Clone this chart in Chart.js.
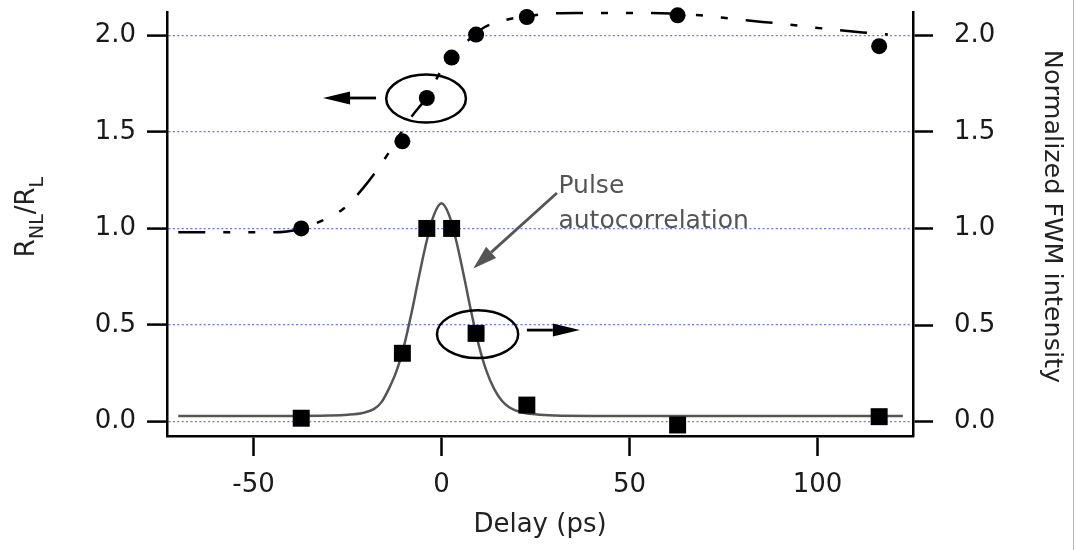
<!DOCTYPE html>
<html>
<head>
<meta charset="utf-8">
<title>Delay</title>
<script src="https://cdn.jsdelivr.net/npm/chart.js@4.4.1/dist/chart.umd.min.js"></script>
<style>
  body { margin: 0; background: #fff; }
  #caixa { position: relative; width: 1077px; height: 550px; }
  #borda { position: absolute; left: 1073px; top: 0; width: 1px; height: 550px; background: #f2a0a0; }
</style>
</head>
<body>
<div id="caixa">
  <canvas id="graph_delay"></canvas>
  <div id="borda"></div>
</div>
<script>
// Dados do gráfico

const atrasos = [-37.3, -10.4, -3.9, 2.7, 9.2, 22.7, 62.8, 116.4];
const razaoRnl = [1.0, 1.451, 1.675, 1.884, 2.003, 2.094, 2.103, 1.943];
const intensidadeFwm = [0.018, 0.354, 1.0, 1.0, 0.457, 0.086, -0.017, 0.026];

// curva tracejada (ajuste de R_NL/R_L)
const ajusteX = [-70, -45, -37.7, -32.5, -26, -20.8, -15.8, -8, -3.9, 0, 2.7, 5, 9.1, 11.3, 16.6, 22.7, 29, 36, 45, 54, 62.8, 68.8, 74.5, 81, 90, 99.5, 106, 112, 118.7];
const ajusteY = [0.98, 0.98, 0.996, 1.034, 1.103, 1.21, 1.34, 1.577, 1.68, 1.82, 1.89, 1.937, 2.006, 2.04, 2.077, 2.098, 2.112, 2.115, 2.115, 2.115, 2.11, 2.103, 2.091, 2.077, 2.06, 2.039, 2.025, 2.014, 2.003];

// autocorrelação do pulso
const autocorrX = [-70, -40, -30, -25, -21, -18, -16, -14, -12, -10, -8, -6, -4, -2, 0, 2, 4, 6, 8, 10, 12, 14, 16, 18, 21, 25, 30, 40, 122.7];
const autocorrY = [0.03, 0.03, 0.032, 0.036, 0.045, 0.065, 0.1, 0.17, 0.26, 0.39, 0.56, 0.75, 0.93, 1.07, 1.13, 1.07, 0.93, 0.75, 0.56, 0.39, 0.26, 0.17, 0.11, 0.075, 0.05, 0.038, 0.032, 0.03, 0.03];

const ticksX = [-50, 0, 50, 100];
const ticksY = [0, 0.5, 1, 1.5, 2];

// Anotações (coordenadas em unidades de dados)
const elipses = [
  { x: -4.1, y: 1.672, rx: 10.6, ry: 0.124 },
  { x: 9.6, y: 0.453, rx: 10.8, ry: 0.124 },
];
const setas = [
  { de: [-17.4, 1.675], para: [-31.5, 1.675], cor: "#000", cabeca: 27, meia: 6.5 },
  { de: [22.7, 0.474], para: [36.8, 0.474], cor: "#000", cabeca: 27, meia: 6.5 },
  { de: [30.7, 1.183], para: [8.46, 0.793], cor: "#555", cabeca: 24, meia: 7.5 },
];
const textoPulso = { x: 31.1, y: 1.181, linhas: ["Pulse", "autocorrelation"] };

const fonte = "'DejaVu Sans', sans-serif";
Chart.defaults.font.family = fonte;

function pontos(xs, ys) {
  return xs.map((x, i) => ({ x: x, y: ys[i] }));
}

function fixarTicks(lista) {
  return function (scale) {
    scale.ticks = lista.map((v) => ({ value: v }));
  };
}

// zera o padding extra que o Chart.js reserva para os rótulos
function ajustarEixo(tamanho) {
  return function (scale) {
    if (scale.isHorizontal()) {
      scale.height = tamanho;
    } else {
      scale.width = tamanho;
    }
    scale.paddingTop = 0;
    scale.paddingBottom = 0;
    scale.paddingLeft = 0;
    scale.paddingRight = 0;
  };
}

// Plugin que desenha elipses, setas, textos e títulos dos eixos

const anotacoes = {
  id: "anotacoes",
  afterDatasetsDraw(chart) {
    const ctx = chart.ctx;
    const sx = chart.scales.x;
    const sy = chart.scales.y;
    const px = (v) => sx.getPixelForValue(v);
    const py = (v) => sy.getPixelForValue(v);

    ctx.save();
    ctx.lineWidth = 2.5;
    ctx.strokeStyle = "#000";
    elipses.forEach((e) => {
      const cx = px(e.x);
      const cy = py(e.y);
      const rx = Math.abs(px(e.x + e.rx) - cx);
      const ry = Math.abs(py(e.y + e.ry) - cy);
      ctx.beginPath();
      ctx.ellipse(cx, cy, rx, ry, 0, 0, Math.PI * 2);
      ctx.stroke();
    });

    setas.forEach((s) => {
      const x1 = px(s.de[0]);
      const y1 = py(s.de[1]);
      const x2 = px(s.para[0]);
      const y2 = py(s.para[1]);
      const ang = Math.atan2(y2 - y1, x2 - x1);
      const bx = x2 - Math.cos(ang) * s.cabeca;
      const by = y2 - Math.sin(ang) * s.cabeca;
      ctx.strokeStyle = s.cor;
      ctx.fillStyle = s.cor;
      ctx.lineWidth = 2.8;
      ctx.beginPath();
      ctx.moveTo(x1, y1);
      ctx.lineTo(bx, by);
      ctx.stroke();
      ctx.beginPath();
      ctx.moveTo(x2, y2);
      ctx.lineTo(bx - Math.sin(ang) * s.meia, by + Math.cos(ang) * s.meia);
      ctx.lineTo(bx + Math.sin(ang) * s.meia, by - Math.cos(ang) * s.meia);
      ctx.closePath();
      ctx.fill();
    });

    ctx.fillStyle = "#555";
    ctx.font = "25px " + fonte;
    ctx.textAlign = "left";
    ctx.textBaseline = "alphabetic";
    textoPulso.linhas.forEach((t, i) => {
      ctx.fillText(t, px(textoPulso.x), py(textoPulso.y) + i * 35);
    });
    ctx.restore();
  },
  afterDraw(chart) {
    const ctx = chart.ctx;
    const area = chart.chartArea;
    ctx.save();
    ctx.fillStyle = "#222";
    ctx.textBaseline = "alphabetic";

    // título eixo X
    ctx.font = "26px " + fonte;
    ctx.textAlign = "center";
    ctx.fillText("Delay (ps)", (area.left + area.right) / 2, 531.5);

    // título eixo Y esquerdo com subscritos
    const partes = [
      ["R", 26, 0],
      ["NL", 19, 9],
      ["/", 26, 0],
      ["R", 26, 0],
      ["L", 19, 9],
    ];
    let total = 0;
    partes.forEach((p) => {
      ctx.font = p[1] + "px " + fonte;
      total += ctx.measureText(p[0]).width;
    });
    ctx.save();
    ctx.translate(33.5, 217);
    ctx.rotate(-Math.PI / 2);
    ctx.textAlign = "left";
    let pos = -total / 2;
    partes.forEach((p) => {
      ctx.font = p[1] + "px " + fonte;
      ctx.fillText(p[0], pos, p[2]);
      pos += ctx.measureText(p[0]).width;
    });
    ctx.restore();

    // título eixo Y direito
    ctx.save();
    ctx.translate(1045, 216.5);
    ctx.rotate(Math.PI / 2);
    ctx.font = "25.5px " + fonte;
    ctx.textAlign = "center";
    ctx.fillText("Normalized FWM intensity", 0, 0);
    ctx.restore();

    ctx.restore();
  },
};

const eixoFonte = { size: 26 };
const corTick = "#1a1a1a";

const graficoDelay = document.getElementById("graph_delay");

new Chart(graficoDelay, {
  type: "scatter",
  data: {
    datasets: [
      {
        label: "Pulse autocorrelation",
        data: pontos(autocorrX, autocorrY),
        showLine: true,
        borderColor: "#555",
        borderWidth: 2.5,
        pointRadius: 0,
        cubicInterpolationMode: "monotone",
        yAxisID: "y2",
        clip: 6,
        order: 4,
      },
      {
        label: "Normalized FWM intensity",
        data: pontos(atrasos, intensidadeFwm),
        pointStyle: "rect",
        pointRadius: 12,
        backgroundColor: "#000",
        borderWidth: 0,
        yAxisID: "y2",
        clip: 12,
        order: 3,
      },
      {
        label: "Ajuste",
        data: pontos(ajusteX, ajusteY),
        showLine: true,
        borderColor: "#000",
        borderWidth: 2.5,
        borderDash: [27, 18, 7, 18, 7, 18],
        pointRadius: 0,
        cubicInterpolationMode: "monotone",
        yAxisID: "y",
        clip: 6,
        order: 2,
      },
      {
        label: "RNL/RL",
        data: pontos(atrasos, razaoRnl),
        pointStyle: "circle",
        pointRadius: 8,
        backgroundColor: "#000",
        borderWidth: 0,
        yAxisID: "y",
        clip: 12,
        order: 1,
      },
    ],
  },
  options: {
    responsive: true,
    maintainAspectRatio: false,
    animation: false,
    layout: { padding: { top: 11.7, left: 0, right: 0, bottom: 0 } },
    scales: {
      x: {
        type: "linear",
        min: -73,
        max: 125.4,
        afterBuildTicks: fixarTicks(ticksX),
        afterFit: ajustarEixo(114),
        grid: {
          drawOnChartArea: false,
          tickLength: 20,
          tickColor: "#000",
          tickWidth: 2.5,
        },
        border: { color: "#000", width: 2.5 },
        ticks: {
          font: eixoFonte,
          color: corTick,
          padding: 14,
          maxRotation: 0,
        },
      },
      y: {
        position: "left",
        min: -0.074,
        max: 2.12,
        afterBuildTicks: fixarTicks(ticksY),
        afterFit: ajustarEixo(167),
        grid: {
          color: "rgb(110, 110, 255)",
          lineWidth: 1.2,
          tickLength: 20,
          tickColor: "#000",
          tickWidth: 2.5,
        },
        border: { color: "#000", width: 2.5, dash: [2, 2.4] },
        ticks: {
          font: eixoFonte,
          color: corTick,
          padding: 11,
          callback: (v) => Number(v).toFixed(1),
        },
      },
      y2: {
        position: "right",
        min: -0.074,
        max: 2.12,
        afterBuildTicks: fixarTicks(ticksY),
        afterFit: ajustarEixo(164),
        grid: {
          drawOnChartArea: false,
          tickLength: 20,
          tickColor: "#000",
          tickWidth: 2.5,
        },
        border: { color: "#000", width: 2.5 },
        ticks: {
          font: eixoFonte,
          color: corTick,
          padding: 21,
          callback: (v) => Number(v).toFixed(1),
        },
      },
    },
    plugins: {
      legend: { display: false },
      tooltip: { enabled: false },
    },
  },
  plugins: [anotacoes],
});
</script>
</body>
</html>
